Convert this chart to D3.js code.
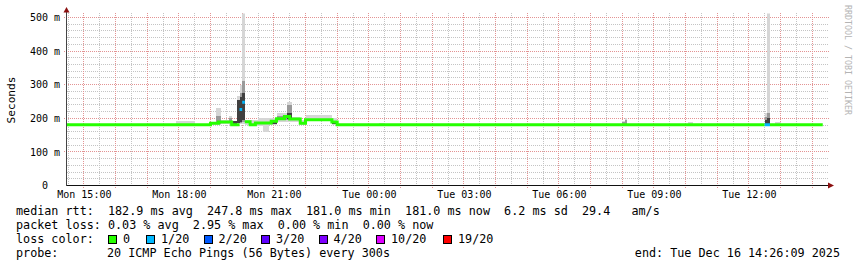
<!DOCTYPE html>
<html><head><meta charset="utf-8">
<script src="https://cdn.jsdelivr.net/npm/d3@7"></script>
<style>
html,body{margin:0;padding:0;background:#fff;}
svg text{font-family:"DejaVu Sans Mono",monospace;white-space:pre;}
</style></head><body>
<svg id="chart" width="857" height="267"></svg>
<script>
// ---------------- data ----------------
const graphStart = "2025-12-15 14:26:09";
const graphEnd   = "2025-12-16 14:26:09";

const xTickTimes  = ["2025-12-15 15:00","2025-12-15 18:00","2025-12-15 21:00","2025-12-16 00:00",
                     "2025-12-16 03:00","2025-12-16 06:00","2025-12-16 09:00","2025-12-16 12:00"];
const xTickLabels = ["Mon 15:00","Mon 18:00","Mon 21:00","Tue 00:00","Tue 03:00","Tue 06:00","Tue 09:00","Tue 12:00"];
const yTickValues = [0,100,200,300,400,500];
const yTickLabels = ["0\u00a0\u00a0","100 m","200 m","300 m","400 m","500 m"];

// median rtt (ms), held until next time; loss = index into lossColors
const medianTime  = ["2025-12-15 14:25","2025-12-15 19:00","2025-12-15 19:15","2025-12-15 19:40",
                     "2025-12-15 19:55","2025-12-15 20:00","2025-12-15 20:05","2025-12-15 20:15",
                     "2025-12-15 20:25","2025-12-15 20:55","2025-12-15 21:05","2025-12-15 21:20",
                     "2025-12-15 21:30","2025-12-15 21:50","2025-12-15 22:00","2025-12-15 22:50",
                     "2025-12-15 23:00","2025-12-16 12:30","2025-12-16 12:40","2025-12-16 14:20"];
const medianValue = [181.0,185,189,181,226,247.8,190,181,186,191,199,205,198,185,196,189,181,181,181,null];
const medianLoss  = [0,0,0,0,1,1,0,0,0,0,0,0,0,0,0,0,0,1,0,0];

// smoke (ping distribution) bands, ms
const smokeStart = ["2025-12-15 17:55","2025-12-15 19:00","2025-12-15 19:10","2025-12-15 19:20","2025-12-15 19:35",
                    "2025-12-15 19:40","2025-12-15 19:50","2025-12-15 19:55","2025-12-15 20:00","2025-12-15 20:05",
                    "2025-12-15 20:20","2025-12-15 20:30","2025-12-15 20:40","2025-12-15 20:50","2025-12-15 20:55",
                    "2025-12-15 21:05","2025-12-15 21:20","2025-12-15 21:25","2025-12-15 21:35","2025-12-15 21:50",
                    "2025-12-15 22:00","2025-12-15 22:50","2025-12-16 00:20","2025-12-16 08:00","2025-12-16 08:05",
                    "2025-12-16 10:05","2025-12-16 12:30","2025-12-16 12:35","2025-12-16 12:50"];
const smokeEnd   = ["2025-12-15 18:30","2025-12-15 19:10","2025-12-15 19:20","2025-12-15 19:35","2025-12-15 19:40",
                    "2025-12-15 19:50","2025-12-15 19:55","2025-12-15 20:00","2025-12-15 20:05","2025-12-15 20:20",
                    "2025-12-15 20:30","2025-12-15 20:40","2025-12-15 20:50","2025-12-15 20:55","2025-12-15 21:05",
                    "2025-12-15 21:20","2025-12-15 21:25","2025-12-15 21:35","2025-12-15 21:50","2025-12-15 22:00",
                    "2025-12-15 22:50","2025-12-15 23:00","2025-12-16 00:30","2025-12-16 08:05","2025-12-16 08:10",
                    "2025-12-16 10:15","2025-12-16 12:35","2025-12-16 12:40","2025-12-16 13:00"];
const outerLo = [181,181,181,183,181,181,183,183,183,181,178,178,160,180,181,190,190,190,188,181,192,181,181,181,181,181,181,181,181];
const outerHi = [191,190,232,196,208,190,265,300,512,196,196,200,201,200,200,215,215,250,205,196,210,200,186,193,200,188,215,512,190];
const midLo   = [null,null,183,null,186,null,null,185,190,null,null,null,null,null,null,194,194,195,null,null,null,null,null,181,181,null,181,181,null];
const midHi   = [null,null,206,null,200,null,null,275,310,null,null,null,null,null,null,208,210,240,null,null,null,null,null,190,196,null,205,217,null];
const innerLo = [null,null,null,null,null,181,185,190,195,null,null,null,null,null,184,null,null,198,null,183,null,183,null,null,null,null,181,181,null];
const innerHi = [null,null,null,null,null,191,255,262,275,null,null,null,null,null,195,null,null,215,null,190,null,192,null,null,null,null,195,200,null];

const lossLabels = ["0","1/20","2/20","3/20","4/20","10/20","19/20"];
const lossColors = ["#26ff00","#00b8ff","#0059ff","#5e00ff","#7e00ff","#dd00ff","#ff0000"];

const statLine1 = "median rtt:  182.9 ms avg  247.8 ms max  181.0 ms min  181.0 ms now  6.2 ms sd  29.4   am/s";
const statLine2 = "packet loss: 0.03 % avg  2.95 % max  0.00 % min  0.00 % now";
const probeText = "20 ICMP Echo Pings (56 Bytes) every 300s";
const endText   = "end: Tue Dec 16 14:26:09 2025";

// ---------------- drawing ----------------
const parse = s => d3.utcParse("%Y-%m-%d %H:%M:%S")(s) || d3.utcParse("%Y-%m-%d %H:%M")(s);
const svg = d3.select("#chart");
const X0 = 66, X1 = 826, Y0 = 185.5;
const x = d3.scaleUtc().domain([parse(graphStart), parse(graphEnd)]).range([X0, X1]);
const y = d3.scaleLinear().domain([0, 512]).range([Y0, Y0 - 512*0.336]);
const yTop = y(512);

svg.append("defs").append("clipPath").attr("id","plot")
  .append("rect").attr("x",X0).attr("y",yTop).attr("width",X1-X0).attr("height",Y0-yTop);

// grid (dotted, 1px)
const grid = svg.append("g");
const minorX = d3.utcMinute.every(30).range(x.domain()[0], x.domain()[1]).filter(d => d.getUTCMinutes() === 30);
const majorX = d3.utcHour.every(1).range(x.domain()[0], x.domain()[1]);
const minorY = d3.range(20, 512, 20).filter(v => v % 100 !== 0);
const majorY = d3.range(100, 512, 100);
const px = v => Math.floor(v) + 0.5;
grid.selectAll(".mnx").data(minorX).join("line")
  .attr("x1", d => px(x(d))).attr("x2", d => px(x(d)))
  .attr("y1", Math.floor(yTop)).attr("y2", Y0).attr("stroke","#c4c4c4").attr("stroke-width",1).attr("stroke-dasharray","1 1");
grid.selectAll(".mny").data(minorY).join("line")
  .attr("x1", X0+1).attr("x2", X1+3).attr("y1", d => px(y(d))).attr("y2", d => px(y(d)))
  .attr("stroke","#c4c4c4").attr("stroke-width",1).attr("stroke-dasharray","1 1");
grid.selectAll(".mjx").data(majorX).join("line")
  .attr("x1", d => px(x(d))).attr("x2", d => px(x(d)))
  .attr("y1", Math.floor(yTop)).attr("y2", Y0+2.5).attr("stroke","#e39393").attr("stroke-width",1).attr("stroke-dasharray","1 1");
grid.selectAll(".mjy").data(majorY).join("line")
  .attr("x1", X0-2).attr("x2", X1+3).attr("y1", d => px(y(d))).attr("y2", d => px(y(d)))
  .attr("stroke","#e39393").attr("stroke-width",1).attr("stroke-dasharray","1 1");

// smoke
const plot = svg.append("g").attr("clip-path","url(#plot)");
const smoke = smokeStart.map((s,i) => ({t0: parse(s), t1: parse(smokeEnd[i]),
  bands: [[outerLo[i], outerHi[i], "#d6d6d6"], [midLo[i], midHi[i], "#9a9a9a"], [innerLo[i], innerHi[i], "#404040"]]}));
smoke.forEach(s => {
  s.bands.forEach(b => {
    if (b[0] == null) return;
    plot.append("rect")
      .attr("x", x(s.t0)).attr("width", x(s.t1) - x(s.t0))
      .attr("y", y(b[1])).attr("height", y(b[0]) - y(b[1]))
      .attr("fill", b[2]).attr("shape-rendering","crispEdges");
  });
});

// median line, coloured by loss (loss steps drawn as separate dashes)
const segs = medianTime.slice(0, -1).map((t,i) => ({t0: parse(t), t1: parse(medianTime[i+1]), v: medianValue[i], loss: medianLoss[i]}));
const runs = [];
segs.forEach(s => {
  const last = runs[runs.length-1];
  if (last && last.loss === s.loss && s.loss === 0) last.pts.push([s.t0, s.v], [s.t1, s.v]);
  else runs.push({loss: s.loss, pts: [[s.t0, s.v], [s.t1, s.v]]});
});
const line = d3.line().x(d => x(d[0])).y(d => y(d[1]));
plot.selectAll(".med").data(runs).join("path")
  .attr("d", r => line(r.pts)).attr("fill","none")
  .attr("stroke", r => lossColors[r.loss]).attr("stroke-width", 3)
  .attr("stroke-linecap","butt").attr("stroke-linejoin","miter");

// axes
const xAxis = d3.axisBottom(x).tickValues(xTickTimes.map(parse))
  .tickFormat((d,i) => xTickLabels[i]).tickSize(0).tickPadding(5.5);
const gx = svg.append("g").attr("transform", `translate(0,${Y0})`).call(xAxis);
gx.select(".domain").remove();
gx.selectAll("text").attr("font-size","10px").attr("fill","#000").attr("font-family","DejaVu Sans Mono");

const yAxis = d3.axisLeft(y).tickValues(yTickValues)
  .tickFormat((d,i) => yTickLabels[i]).tickSize(0).tickPadding(6);
const gy = svg.append("g").attr("transform", `translate(${X0},0)`).call(yAxis);
gy.select(".domain").remove();
gy.selectAll("text").attr("font-size","10px").attr("fill","#000").attr("font-family","DejaVu Sans Mono");

// axis lines + arrows
svg.append("line").attr("x1", X0).attr("x2", X1+4).attr("y1", Y0).attr("y2", Y0)
  .attr("stroke","#111").attr("shape-rendering","crispEdges");
svg.append("line").attr("x1", X0+0.5).attr("x2", X0+0.5).attr("y1", Y0).attr("y2", yTop-1)
  .attr("stroke","#444").attr("shape-rendering","crispEdges");
svg.append("path").attr("d", `M${X1+2},${Y0-3}L${X1+8},${Y0}L${X1+2},${Y0+3}Z`).attr("fill","#8b1010");
svg.append("path").attr("d", `M${X0-2.5},${yTop-1}L${X0+0.5},${yTop-6.5}L${X0+3.5},${yTop-1}Z`).attr("fill","#8b1010");

// axis title
svg.append("text").attr("transform","translate(15,100) rotate(-90)")
  .attr("text-anchor","middle").attr("font-size","11.2px").attr("fill","#000").text("Seconds");
// watermark
svg.append("text").attr("transform","translate(845,5) rotate(90)")
  .attr("font-size","8.3px").attr("fill","#b4b4b4").text("RRDTOOL / TOBI OETIKER");

// legend
const lg = svg.append("g").attr("font-size","11.75px").attr("fill","#000");
lg.append("text").attr("x",16).attr("y",214.8).text(statLine1);
lg.append("text").attr("x",16).attr("y",228.8).text(statLine2);
lg.append("text").attr("x",16).attr("y",242.7).text("loss color:");
const boxX = [108,146,203.5,261,318.5,376,443];
lossLabels.forEach((l,i) => {
  lg.append("rect").attr("x", boxX[i]+0.5).attr("y", 235.5).attr("width", 8).attr("height", 8)
    .attr("fill", lossColors[i]).attr("stroke","#000").attr("stroke-width",1).attr("shape-rendering","crispEdges");
  lg.append("text").attr("x", boxX[i]+15).attr("y",242.7).text(l);
});
lg.append("text").attr("x",16).attr("y",256.5).text("probe:");
lg.append("text").attr("x",107).attr("y",256.5).text(probeText);
lg.append("text").attr("x",840).attr("y",256.5).attr("text-anchor","end").text(endText);
</script>
</body></html>
